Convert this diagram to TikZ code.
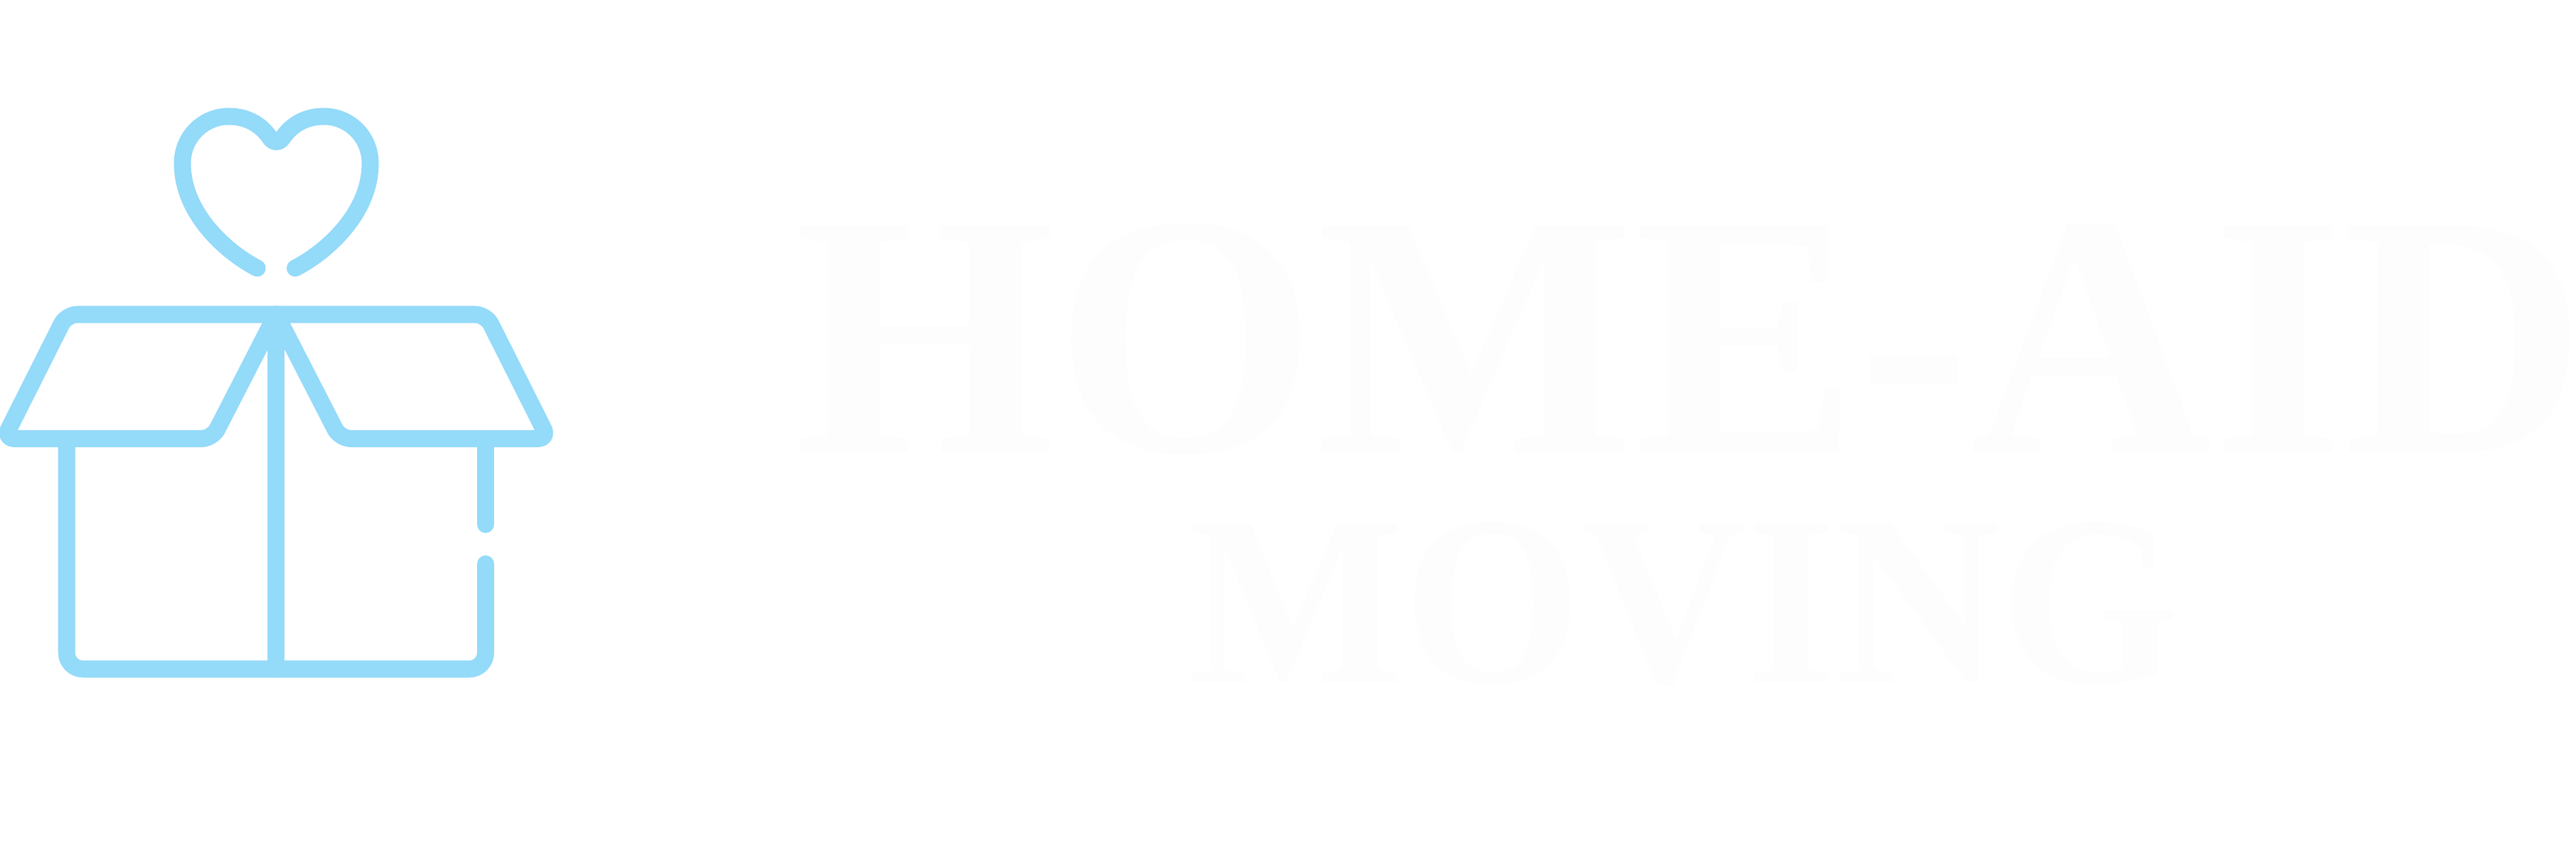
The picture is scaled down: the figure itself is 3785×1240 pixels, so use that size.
\documentclass[tikz,border=0pt]{standalone}
\usepackage{fontspec}
\newfontfamily\hometitle[FakeStretch=0.975]{Liberation Serif Bold}
\newfontfamily\movetitle[FakeStretch=0.946]{Liberation Serif Bold}
\definecolor{boxblue}{HTML}{94DAF9}
\definecolor{titlewhite}{HTML}{FDFDFD}
\begin{document}
\begin{tikzpicture}[x=0.01cm,y=-0.01cm,boxline/.style={draw=boxblue,line width=0.25cm,line cap=round,line join=round},flap/.style={boxline,rounded corners=0.16cm},wall/.style={boxline,rounded corners=0.24cm},title/.style={anchor=base west,inner sep=0pt,text=titlewhite}]
\def\midx{405.8};
\def\topy{462};
\def\flapy{644.5};
\def\botY{983};

\useasboundingbox (0,0) rectangle (3785,1240);

\coordinate (apex) at (\midx,\topy);
\coordinate (Lt) at (97.5,\topy);
\coordinate (Lb) at (5.7,\flapy);
\coordinate (Li) at (312,\flapy);
\coordinate (Rt) at (714.1,\topy);
\coordinate (Rb) at (805.9,\flapy);
\coordinate (Ri) at (499.6,\flapy);
\coordinate (WL) at (98,\flapy);
\coordinate (WR) at (713.5,\flapy);
\coordinate (WRa) at (713.5,770.5);
\coordinate (WRb) at (713.5,828.5);
\coordinate (bot) at (\midx,\botY);
\coordinate (heartL) at (378,394);
\coordinate (heartR) at (433.6,394);

\draw[flap] (apex) -- (Lt) -- (Lb) -- (Li) -- (apex);
\draw[flap] (apex) -- (Rt) -- (Rb) -- (Ri) -- (apex);
\draw[boxline] (apex) -- (bot);
\draw[wall] (WL) -- (98,\botY) -- (713.5,\botY) -- (WRb);
\draw[boxline] (WR) -- (WRa);

\draw[boxline] (heartL) .. controls (335,372) and (268,315) .. (268,240) .. controls (268,200) and (300,171) .. (336,171) .. controls (365,171) and (385,185) .. (397,203) .. controls (402,210) and (410,210) .. (415,203) .. controls (427,185) and (447,171) .. (476,171) .. controls (512,171) and (544,200) .. (544,240) .. controls (544,315) and (477,372) .. (heartR);

\node[title,font=\hometitle\fontsize{144}{144}\selectfont] (home) at (1166,663) {HOME-AID};
\node[title,font=\movetitle\fontsize{101}{101}\selectfont] (moving) at (1745,1002) {MOVING};
\end{tikzpicture}
\end{document}
